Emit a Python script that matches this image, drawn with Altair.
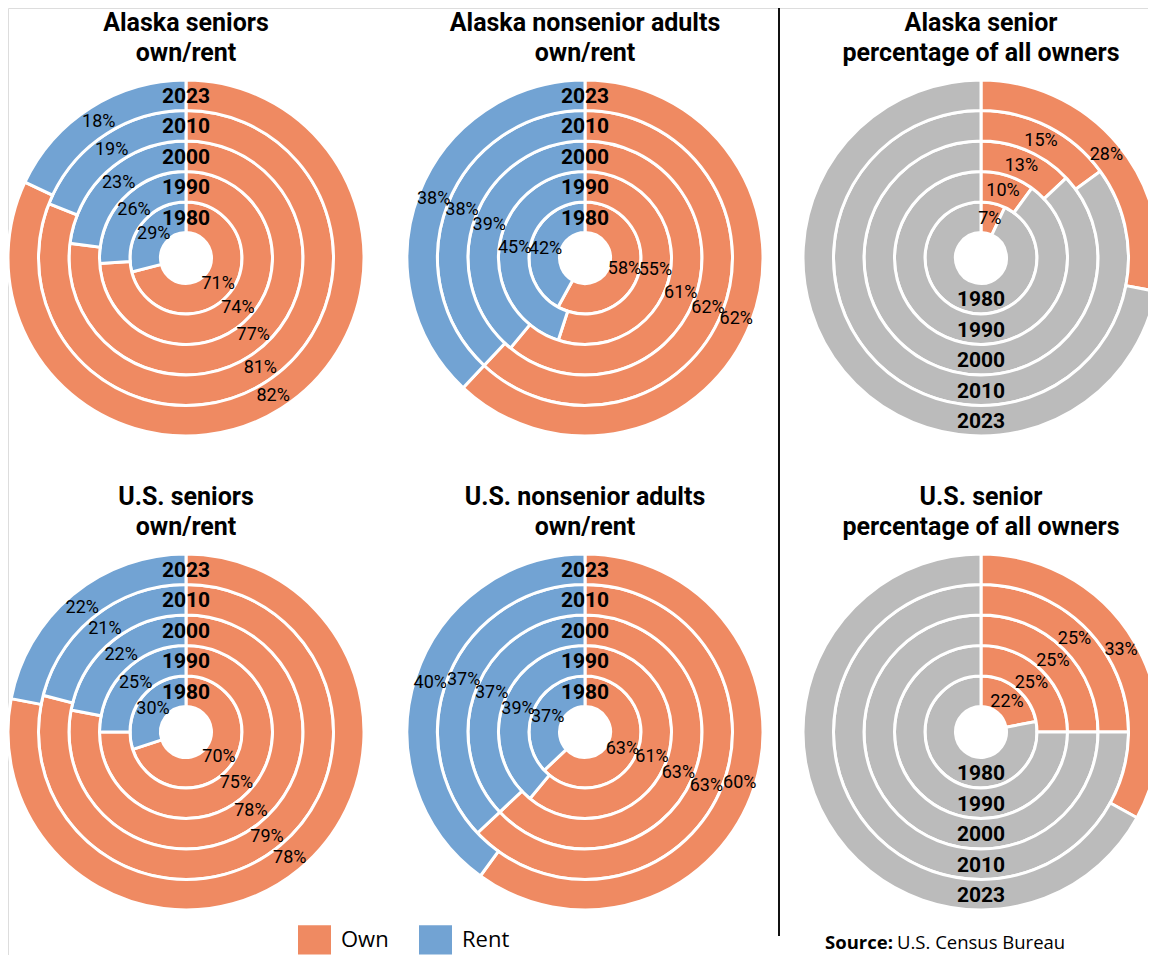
import math
import altair as alt
import pandas as pd

# ---------------- data ----------------
years = ["1980", "1990", "2000", "2010", "2023"]

ak_senior_own = [71, 74, 77, 81, 82]
ak_senior_rent = [29, 26, 23, 19, 18]
ak_nonsenior_own = [58, 55, 61, 62, 62]
ak_nonsenior_rent = [42, 45, 39, 38, 38]
us_senior_own = [70, 75, 78, 79, 78]
us_senior_rent = [30, 25, 22, 21, 22]
us_nonsenior_own = [63, 61, 63, 63, 60]
us_nonsenior_rent = [37, 39, 37, 37, 40]
ak_senior_share = [7, 10, 13, 15, 28]
us_senior_share = [22, 25, 25, 25, 33]

titles = [
    ["Alaska seniors", "own/rent"],
    ["Alaska nonsenior adults", "own/rent"],
    ["Alaska senior", "percentage of all owners"],
    ["U.S. seniors", "own/rent"],
    ["U.S. nonsenior adults", "own/rent"],
    ["U.S. senior", "percentage of all owners"],
]
legend_items = ["Own", "Rent"]
share_items = ["Senior", "Other"]
source_bold = ["Source:"]
source_text = ["U.S. Census Bureau"]

# ---------------- style ----------------
ORANGE = "#ef8a62"
BLUE = "#72a3d3"
GRAY = "#bbbbbb"
CW, CH = 1140, 947

TH = alt.Scale(domain=[0, 100], range=[0, 2 * math.pi])
RS = alt.Scale(type="linear", domain=[0, 5], range=[25.5, 178], zero=False)

LEGEND = alt.Legend(title=None, orient="none", legendX=290, legendY=915,
                    direction="horizontal", symbolType="M-1,-0.89H1V0.89H-1Z",
                    symbolSize=1089, symbolStrokeWidth=0, symbolOpacity=1,
                    labelFont="Open Sans", labelFontSize=22, labelColor="black",
                    labelOffset=10, columnPadding=30, padding=0)


def ring_frame(first, second, names, label_second=True):
    rows = []
    for i, y in enumerate(years):
        a, b = first[i], second[i]
        rows.append(dict(year=y, cat=names[0], start=0, end=a, r0=i, r1=i + 1,
                         mid=a / 2, rmid=i + 0.5, label=f"{a}%"))
        rows.append(dict(year=y, cat=names[1], start=a, end=a + b, r0=i, r1=i + 1,
                         mid=a + b / 2, rmid=i + 0.5,
                         label=f"{b}%" if label_second else ""))
    return pd.DataFrame(rows)


def panel(cx, cy, ty, lines, df, year_pos, share=False):
    base = alt.Chart(df)
    if share:
        paint = {"fill": alt.Fill("cat:N", scale=alt.Scale(domain=share_items, range=[ORANGE, GRAY]),
                                  legend=None)}
    else:
        paint = {"color": alt.Color("cat:N", scale=alt.Scale(domain=legend_items, range=[ORANGE, BLUE]),
                                    legend=LEGEND)}
    arcs = base.mark_arc(stroke="white", strokeWidth=3).encode(
        x=alt.value(cx), y=alt.value(cy),
        theta=alt.Theta("start:Q", scale=TH, stack=None), theta2="end:Q",
        radius=alt.Radius("r1:Q", scale=RS), radius2="r0:Q", **paint)
    pct = base.transform_filter("datum.label != ''").mark_text(
        font="Roboto", fontSize=18, color="black", dy=1).encode(
        x=alt.value(cx), y=alt.value(cy),
        theta=alt.Theta("mid:Q", scale=TH, stack=None),
        radius=alt.Radius("rmid:Q", scale=RS), text="label:N")
    ydf = pd.DataFrame({"year": years, "rmid": [i + 0.5 for i in range(len(years))],
                        "pos": [year_pos] * len(years)})
    yr = alt.Chart(ydf).mark_text(font="Roboto", fontSize=21, fontWeight="bold",
                                  color="black", dy=1.5).encode(
        x=alt.value(cx), y=alt.value(cy),
        theta=alt.Theta("pos:Q", scale=TH, stack=None),
        radius=alt.Radius("rmid:Q", scale=RS), text="year:N")
    tdf = pd.DataFrame({"t": ["\n".join(lines)]})
    ttl = alt.Chart(tdf).mark_text(font="Roboto", fontSize=25, fontWeight="bold", color="black",
                                   lineBreak="\n", lineHeight=29.5, align="center",
                                   baseline="alphabetic").encode(
        x=alt.value(cx), y=alt.value(ty), text="t:N")
    return [arcs, pct, yr, ttl]


COLS = [178, 577, 973]
ROWS = [250, 724]
TITLE_Y = [23, 497]

layers = []
layers += panel(COLS[0], ROWS[0], TITLE_Y[0], titles[0],
                ring_frame(ak_senior_own, ak_senior_rent, legend_items), 0)
layers += panel(COLS[1], ROWS[0], TITLE_Y[0], titles[1],
                ring_frame(ak_nonsenior_own, ak_nonsenior_rent, legend_items), 0)
layers += panel(COLS[2], ROWS[0], TITLE_Y[0], titles[2],
                ring_frame(ak_senior_share, [100 - v for v in ak_senior_share], share_items, False),
                50, share=True)
layers += panel(COLS[0], ROWS[1], TITLE_Y[1], titles[3],
                ring_frame(us_senior_own, us_senior_rent, legend_items), 0)
layers += panel(COLS[1], ROWS[1], TITLE_Y[1], titles[4],
                ring_frame(us_nonsenior_own, us_nonsenior_rent, legend_items), 0)
layers += panel(COLS[2], ROWS[1], TITLE_Y[1], titles[5],
                ring_frame(us_senior_share, [100 - v for v in us_senior_share], share_items, False),
                50, share=True)

# vertical divider between the own/rent panels and the share panels
divider = alt.Chart(pd.DataFrame({"k": [0]})).mark_rule(color="#111111", strokeWidth=2).encode(
    x=alt.value(771), y=alt.value(0), y2=alt.value(928))

src_df = pd.DataFrame({"b": source_bold, "t": source_text})
src_b = alt.Chart(src_df).mark_text(font="Open Sans", fontSize=18.5, fontWeight="bold", color="black",
                                    align="left", baseline="alphabetic").encode(
    x=alt.value(817), y=alt.value(941), text="b:N")
src_t = alt.Chart(src_df).mark_text(font="Open Sans", fontSize=18.5, color="black",
                                    align="left", baseline="alphabetic").encode(
    x=alt.value(889), y=alt.value(941), text="t:N")

chart = alt.layer(*layers, divider, src_b, src_t).properties(
    width=CW, height=CH,
    padding={"left": 0, "top": 0, "right": 0, "bottom": 0},
    autosize=alt.AutoSizeParams(type="none"),
).configure_view(stroke="transparent", strokeWidth=0).configure(background="white")

chart.save("out.html", embed_options={"renderer": "svg", "actions": False})
